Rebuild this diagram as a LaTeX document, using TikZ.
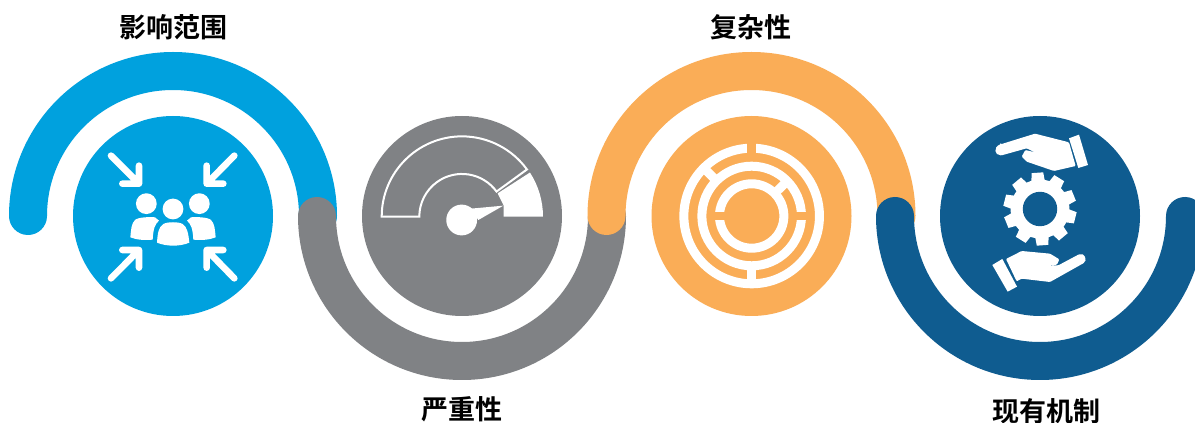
\documentclass[tikz,border=0pt]{standalone}
\usepackage{fontspec}
\usetikzlibrary{calc}
\newfontfamily\cjk{Noto Sans CJK SC}[BoldFont={Noto Sans CJK SC Bold}]
\definecolor{cblue}{HTML}{00A1DE}
\definecolor{cgray}{HTML}{808285}
\definecolor{corange}{HTML}{FAAD57}
\definecolor{cdark}{HTML}{0F5C90}
\tikzset{
  disc/.style={circle,minimum size=200pt,inner sep=0pt,outer sep=0pt},
  band/.style={line width=38pt,line cap=round},
  title/.style={font=\cjk\bfseries\fontsize{27pt}{30pt}\selectfont,text=black,inner sep=0pt},
  icon/.style={x=0.33333pt,y=-0.33333pt},
  arrowline/.style={draw=white,line width=6.6pt,line cap=round,line join=round},
  ring/.style={draw=white,line width=9pt}
}
\begin{document}
\begin{tikzpicture}[x=1pt,y=1pt]
\clip (0,0) rectangle (1195,423);
\fill[white] (0,0) rectangle (1195,423);
% discs
\node[disc,fill=cblue] (c1) at (173,207) {};
\node[disc,fill=cgray] (c2) at (462,207) {};
\node[disc,fill=corange] (c3) at (751.5,207) {};
\node[disc,fill=cdark] (c4) at (1040,207) {};
% bands
\draw[band,cblue] (c1.center) ++(180:145pt) arc[start angle=180,end angle=0,radius=145pt];
\draw[band,cgray] (c2.center) ++(180:145pt) arc[start angle=180,end angle=360,radius=145pt];
\draw[band,corange] (c3.center) ++(180:145pt) arc[start angle=180,end angle=0,radius=145pt];
\draw[band,cdark] (c4.center) ++(180:145pt) arc[start angle=180,end angle=360,radius=145pt];
% titles
\node[title] (t1) at (173,396) {影响范围};
\node[title] (t2) at (462,14) {严重性};
\node[title] (t3) at (751,396) {复杂性};
\node[title] (t4) at (1046,12) {现有机制};
% icon 1
\begin{scope}[shift={(60,323)},icon]
  \draw[arrowline] (153,167) -- (237,251) (237,197) -- (237,251) -- (187,251);
  \draw[arrowline] (523,167) -- (440,251) (440,197) -- (440,251) -- (490,251);
  \draw[arrowline] (153,535) -- (237,450) (187,450) -- (237,450) -- (237,503);
  \draw[arrowline] (523,535) -- (440,450) (490,450) -- (440,450) -- (440,503);
  \fill[white] (259,311) circle[radius=10.4pt] (418,311) circle[radius=10.4pt] (339,327) circle[radius=10.4pt];
  \fill[white] (291,428) .. controls (293,400) and (295,382) .. (310,372) .. controls (322,365) and (356,365) .. (368,372) .. controls (382,382) and (385,400) .. (388,428) .. controls (360,440) and (320,440) .. (291,428) -- cycle;
  \fill[white] (211,412) .. controls (213,390) and (214,370) .. (225,360) .. controls (232,352) and (270,350) .. (285,352) -- (297,362) .. controls (285,372) and (280,385) .. (278,419) .. controls (255,421) and (230,420) .. (211,412) -- cycle;
  \fill[white] (467,412) .. controls (465,390) and (464,370) .. (453,360) .. controls (446,352) and (408,350) .. (393,352) -- (381,362) .. controls (393,372) and (398,385) .. (400,419) .. controls (423,421) and (448,420) .. (467,412) -- cycle;
\end{scope}
% icon 2
\begin{scope}[shift={(350,323)},icon]
  \coordinate (gc) at (336,350);
  \draw[white,line width=2pt,line join=miter] (gc) ++(180:80.3pt) arc[start angle=180,end angle=36,radius=80.3pt] -- ++(216:37.6pt) arc[start angle=36,end angle=180,radius=42.7pt] -- cycle;
  \fill[white] (gc) ++(33:81pt) arc[start angle=33,end angle=0,radius=81pt] -- ++(-39.3pt,0pt) -- ++(0pt,11pt) -- (443,280) -- cycle;
  \fill[white] (335,360) circle[radius=15.4pt];
  \fill[white] (460,317) -- (362,326) -- (385,360) -- cycle;
\end{scope}
% icon 3
\begin{scope}[shift={(640,323)},icon]
  \coordinate (lc) at (335,348);
  \draw[ring] (lc) circle[radius=67.8pt];
  \draw[ring] (lc) circle[radius=49.8pt];
  \draw[ring] (lc) circle[radius=32.2pt];
  \draw[ring] (lc) ++(135:50pt) -- ++(135:18pt);
  \draw[ring] (lc) ++(44.5:32pt) -- ++(44.5:18pt);
  \draw[ring] (lc) ++(-90:50pt) -- ++(-90:18pt);
  \fill[corange] (322,125) rectangle (348,162);
  \fill[corange] (465,335) rectangle (505,360);
  \fill[corange] (218,335) rectangle (258,360);
\end{scope}
% icon 4
\begin{scope}[shift={(930,323)},icon]
  \coordinate (gg) at (330,327);
  \fill[white] ($(gg)+(108:29.5pt)$) \foreach \a in {94,58,22,-14,-50,-86,-122,-158,-194,-230} {
      -- ($(gg)+(\a+13:29.5pt)$) -- ($(gg)+(\a+9:36.8pt)$) -- ($(gg)+(\a-9:36.8pt)$) -- ($(gg)+(\a-13:29.5pt)$)
    } -- cycle;
  \fill[cdark] (gg) circle[radius=17.2pt];
  % upper hand
  \fill[white] (417,115) -- (447,104) -- (474,195) -- (445,204) -- cycle;
  \fill[white,rounded corners=1pt] (212,133) -- (315,101) -- (417,127) -- (437,198) -- (372,213) -- (290,185) -- (275,170) -- (286,150) -- (315,157) -- (290,145) -- (215,166) .. controls (193,166) and (190,141) .. (212,133) -- cycle;
  % lower hand
  \fill[white] (187,495) -- (217,477) -- (261,560) -- (233,575) -- cycle;
  \fill[white,rounded corners=1pt] (228,477) -- (275,453) -- (360,461) -- (388,478) -- (381,494) -- (350,497) -- (385,496) -- (445,464) .. controls (464,456) and (474,482) .. (458,491) -- (360,546) -- (275,536) -- (260,544) -- cycle;
\end{scope}
\end{tikzpicture}
\end{document}
